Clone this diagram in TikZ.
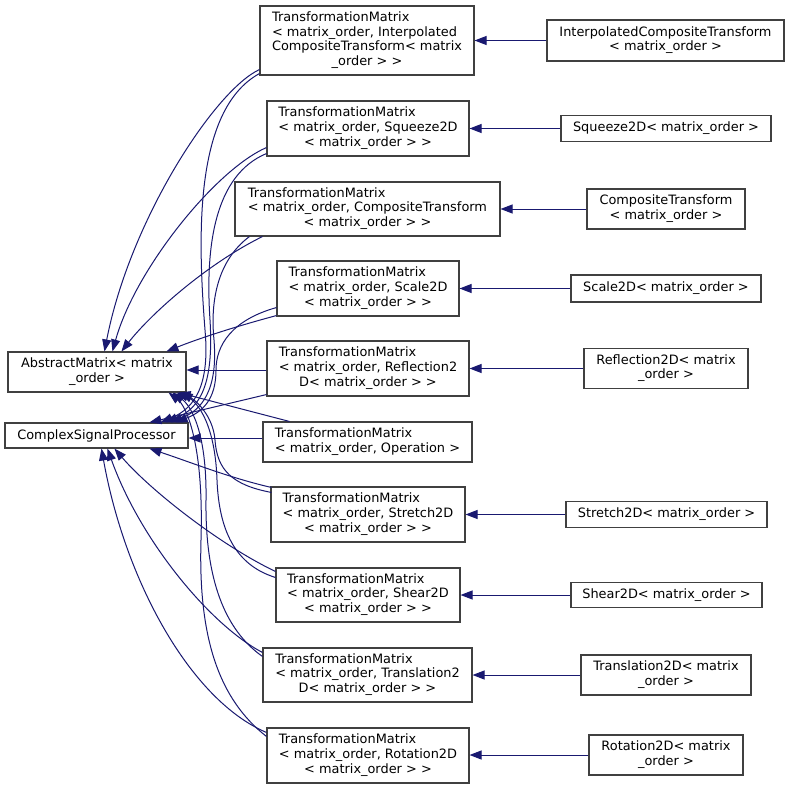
\documentclass[tikz,border=0pt]{standalone}
\usepackage{fontspec}
\setmainfont{DejaVu Sans}
\usetikzlibrary{arrows.meta,calc}
\definecolor{edgec}{HTML}{191970}
\definecolor{boxc}{HTML}{404040}
\newcommand\dlab[2]{\begin{tabular}{@{}l@{}}#1\\\multicolumn{1}{@{}c@{}}{#2}\end{tabular}}
\begin{document}
\begin{tikzpicture}[x=1pt,y=-1pt,
  box/.style={draw=boxc, line width=1.1pt, fill=white, inner sep=0pt,
    font=\fontsize{12.9}{14.7}\selectfont},
  inh/.style={draw=edgec, line width=1pt, -{Triangle[length=12pt,width=9pt]}}]
\fill[white] (0,0) rectangle (789,789);
\useasboundingbox (0,0) rectangle (789,789);
% left bases
\node[box, minimum width=178pt, minimum height=40pt] (AM) at (97,372) {\dlab{AbstractMatrix< matrix}{\_order >}};
\node[box, minimum width=183pt, minimum height=25pt] (CSP) at (96.5,435.5) {ComplexSignalProcessor};
% middle
\node[box, minimum width=214pt, minimum height=69pt] (T1) at (367,40.5) {\dlab{TransformationMatrix\\< matrix\_order, Interpolated\\CompositeTransform< matrix}{\_order > >}};
\node[box, minimum width=202pt, minimum height=55pt] (T2) at (368,128.5) {\dlab{TransformationMatrix\\< matrix\_order, Squeeze2D}{< matrix\_order > >}};
\node[box, minimum width=265pt, minimum height=54pt] (T3) at (367.5,209) {\dlab{TransformationMatrix\\< matrix\_order, CompositeTransform}{< matrix\_order > >}};
\node[box, minimum width=182pt, minimum height=55pt] (T4) at (368,288.5) {\dlab{TransformationMatrix\\< matrix\_order, Scale2D}{< matrix\_order > >}};
\node[box, minimum width=202pt, minimum height=55pt] (T5) at (368,368.5) {\dlab{TransformationMatrix\\< matrix\_order, Reflection2}{D< matrix\_order > >}};
\node[box, minimum width=209pt, minimum height=40pt] (T6) at (367.5,442) {\dlab{TransformationMatrix}{< matrix\_order, Operation >}};
\node[box, minimum width=194pt, minimum height=55pt] (T7) at (368,514.5) {\dlab{TransformationMatrix\\< matrix\_order, Stretch2D}{< matrix\_order > >}};
\node[box, minimum width=184pt, minimum height=54pt] (T8) at (368,595) {\dlab{TransformationMatrix\\< matrix\_order, Shear2D}{< matrix\_order > >}};
\node[box, minimum width=209pt, minimum height=54pt] (T9) at (367.5,675) {\dlab{TransformationMatrix\\< matrix\_order, Translation2}{D< matrix\_order > >}};
\node[box, minimum width=202pt, minimum height=55pt] (T10) at (368,755.5) {\dlab{TransformationMatrix\\< matrix\_order, Rotation2D}{< matrix\_order > >}};
% right
\node[box, minimum width=237pt, minimum height=41pt] (R1) at (665.5,40.5) {\dlab{InterpolatedCompositeTransform}{< matrix\_order >}};
\node[box, minimum width=210pt, minimum height=26pt] (R2) at (666,128.5) {Squeeze2D< matrix\_order >};
\node[box, minimum width=158pt, minimum height=40pt] (R3) at (666,209) {\dlab{CompositeTransform}{< matrix\_order >}};
\node[box, minimum width=190pt, minimum height=27pt] (R4) at (666,288.5) {Scale2D< matrix\_order >};
\node[box, minimum width=164pt, minimum height=40pt] (R5) at (666,368.5) {\dlab{Reflection2D< matrix}{\_order >}};
\node[box, minimum width=201pt, minimum height=26pt] (R6) at (666.5,514.5) {Stretch2D< matrix\_order >};
\node[box, minimum width=191pt, minimum height=25pt] (R7) at (666.5,595) {Shear2D< matrix\_order >};
\node[box, minimum width=170pt, minimum height=40pt] (R8) at (666,675) {\dlab{Translation2D< matrix}{\_order >}};
\node[box, minimum width=154pt, minimum height=40pt] (R9) at (666,755) {\dlab{Rotation2D< matrix}{\_order >}};
% right edges
\foreach \r/\t in {R1/T1,R2/T2,R3/T3,R4/T4,R5/T5,R6/T7,R7/T8,R8/T9,R9/T10}
  \draw[inh] (\r.west) -- (\r.west -| \t.east);
% edges to AbstractMatrix
\draw[inh] ($(T1.south west)+(0,-6)$) .. controls (215,90) and (130,220) .. ($(AM.north west)+(97,0)$);
\draw[inh] ($(T2.south west)+(0,-9)$) .. controls (215,170) and (135,270) .. ($(AM.north west)+(105,0)$);
\draw[inh] ($(T3.south west)+(28,0)$) .. controls (205,265) and (150,315) .. ($(AM.north west)+(114,0)$);
\draw[inh] ($(T4.south west)+(0,-1)$) .. controls (230,328) and (195,340) .. ($(AM.north west)+(159,0)$);
\draw[inh] ($(T5.west)+(0,1.5)$) -- ($(T5.west -| AM.east)+(0,1.5)$);
\draw[inh] ($(T6.north west)+(27,0)$) -- ($(AM.south east)+(-8,0)$);
\draw[inh] ($(T7.north west)+(1,6)$) .. controls (232,485) and (217,470) .. (215,440) .. controls (213,415) and (195,400) .. ($(AM.south east)+(-6,0)$);
\draw[inh] ($(T8.north west)+(0,10)$) .. controls (235,565) and (219,530) .. (217,480) .. controls (215,420) and (195,400) .. ($(AM.south east)+(-10,0)$);
\draw[inh] ($(T9.north west)+(0,9)$) .. controls (225,630) and (205,580) .. (206,500) .. controls (207,430) and (190,405) .. ($(AM.south east)+(-14,0)$);
\draw[inh] ($(T10.north west)+(0,9)$) .. controls (220,700) and (198,640) .. (201,540) .. controls (204,440) and (185,405) .. ($(AM.south east)+(-18,0)$);
% edges to ComplexSignalProcessor
\draw[inh] ($(T1.south west)+(0,-2)$) .. controls (193,110) and (198,240) .. (205,330) .. controls (210,385) and (195,408) .. ($(CSP.north east)+(-28,0)$);
\draw[inh] ($(T2.south west)+(0,-3)$) .. controls (215,175) and (205,245) .. (210,320) .. controls (214,385) and (200,408) .. ($(CSP.north east)+(-23,0)$);
\draw[inh] ($(T3.south west)+(15,0)$) .. controls (218,260) and (210,300) .. (214,340) .. controls (218,390) and (202,410) .. ($(CSP.north east)+(-18,0)$);
\draw[inh] ($(T4.south west)+(0,-9)$) .. controls (232,320) and (216,345) .. (216,370) .. controls (216,400) and (202,412) .. ($(CSP.north east)+(-13,0)$);
\draw[inh] ($(T5.south west)+(0,-2)$) -- ($(CSP.north west)+(145,0)$);
\draw[inh] ($(T6.west)+(0,-4)$) -- ($(T6.west -| CSP.east)+(0,-4)$);
\draw[inh] ($(T7.north west)+(1,1)$) .. controls (230,478) and (190,462) .. ($(CSP.south west)+(145,0)$);
\draw[inh] ($(T8.north west)+(0,4)$) .. controls (220,545) and (150,490) .. ($(CSP.south west)+(110,0)$);
\draw[inh] ($(T9.north west)+(0,5)$) .. controls (210,625) and (140,540) .. ($(CSP.south west)+(103,0)$);
\draw[inh] ($(T10.north west)+(0,5)$) .. controls (190,700) and (125,580) .. ($(CSP.south west)+(97,0)$);
\end{tikzpicture}
\end{document}
